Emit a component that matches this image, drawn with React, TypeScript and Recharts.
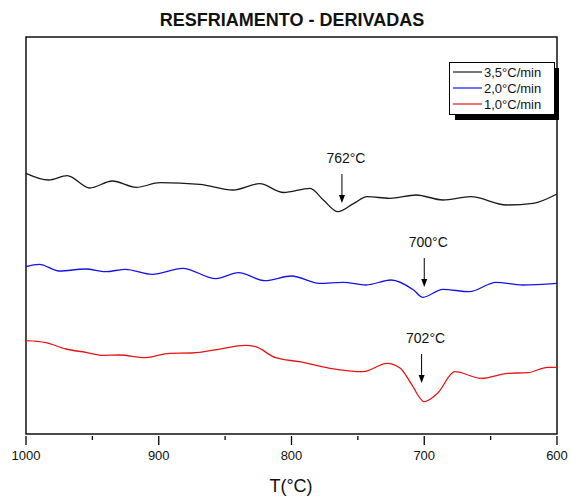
import { Line, LineChart, ReferenceArea, ReferenceDot, XAxis, YAxis } from "recharts";

// Cooling-rate derivative curves (arbitrary units, offset for stacking)
const rateLabels = ["3,5°C/min", "2,0°C/min", "1,0°C/min"];
const rateColors = ["#1a1a1a", "#1414e6", "#e61414"];

const fastT = [1000, 983, 969, 952, 935, 917, 899, 869, 844, 824, 806, 786, 776, 765, 753, 743, 726, 706, 686, 665, 638, 618, 600];
const fastV = [260.7, 254, 258.3, 246, 253, 246.7, 251.3, 249.7, 244, 250.3, 241.5, 245.7, 234, 222.3, 230.7, 237.3, 235.7, 239, 234, 237.3, 229, 230.7, 240];

const midT = [1000, 990, 975, 955, 940, 925, 905, 882, 857, 840, 820, 800, 779, 761, 744, 725, 708, 701, 686, 666, 646, 626, 600];
const midV = [167.3, 169.7, 163, 165, 162.3, 164.7, 159.7, 165.7, 155.3, 161.3, 153.3, 158, 150.7, 151.7, 149, 154, 144, 136.7, 144.7, 142.3, 151.7, 149, 150.7];

const slowT = [1000, 985, 970, 955, 942, 930, 910, 892, 875, 855, 835, 827, 812, 794, 771, 746, 728, 718, 710, 700, 690, 677, 657, 637, 622, 607, 600];
const slowV = [93.3, 91.3, 85, 81.7, 78.7, 79, 76.3, 80.7, 81, 84.7, 88.7, 87.3, 76.3, 72.3, 65.7, 62.3, 70.7, 65.7, 50.7, 32.3, 40.7, 62.3, 55.7, 60.7, 61.3, 66.7, 66.7];

const peakT = [762, 700, 702];
const peakV = [231, 147, 51];
const peakLabels = ["762°C", "700°C", "702°C"];

const xTicks = [1000, 950, 900, 850, 800, 750, 700, 650, 600];
const majorTicks = [1000, 900, 800, 700, 600];

const series = [fastT, midT, slowT].map((ts, i) =>
  ts.map((t, j) => ({ t, v: [fastV, midV, slowV][i][j] }))
);

const FONT = "'Liberation Sans', Arial, sans-serif";

function Tick(props: any) {
  const { x, y, payload } = props;
  const major = majorTicks.includes(payload.value);
  return (
    <g>
      <line x1={x} x2={x} y1={y} y2={y + (major ? 9 : 4)} stroke="#000" strokeWidth={1.3} />
      {major && (
        <text x={x} y={y + 24} textAnchor="middle" fontSize={13} fill="#111" fontFamily={FONT}>
          {payload.value}
        </text>
      )}
    </g>
  );
}

function PeakMark(label: string) {
  return (props: any) => {
    const { cx, cy } = props;
    return (
      <g>
        <line x1={cx} x2={cx} y1={cy - 29} y2={cy - 6} stroke="#000" strokeWidth={1} />
        <polygon points={`${cx - 3},${cy - 8} ${cx + 3},${cy - 8} ${cx},${cy}`} fill="#000" />
        <text x={cx + 4} y={cy - 40} textAnchor="middle" fontSize={14} fill="#111" fontFamily={FONT}>
          {label}
        </text>
      </g>
    );
  };
}

function LegendBox() {
  return (
    <svg width={112} height={60} style={{ position: "absolute", left: 449, top: 62 }}>
      <rect x={6} y={6} width={104} height={52} fill="#000" />
      <rect x={0.5} y={0.5} width={105} height={52} fill="#fff" stroke="#000" strokeWidth={1} />
      {rateLabels.map((l, i) => (
        <g key={l}>
          <line x1={4} x2={33} y1={10 + i * 16} y2={10 + i * 16} stroke={rateColors[i]} strokeWidth={1.2} />
          <text x={35} y={14.5 + i * 16} fontSize={13} fill="#111" fontFamily={FONT}>
            {l}
          </text>
        </g>
      ))}
    </svg>
  );
}

export default function App() {
  return (
    <div style={{ position: "absolute", left: 0, top: 0, width: 571, height: 496, background: "#fff" }}>
      <LineChart width={571} height={496} margin={{ top: 37, right: 14, bottom: 32, left: 26 }}>
        <text x={292} y={26} textAnchor="middle" fontSize={18} fontWeight="bold" fill="#111" fontFamily={FONT}>
          RESFRIAMENTO - DERIVADAS
        </text>
        <text x={291} y={492} textAnchor="middle" fontSize={18} fill="#111" fontFamily={FONT}>
          T(°C)
        </text>
        <XAxis
          dataKey="t"
          type="number"
          domain={[600, 1000]}
          reversed
          ticks={xTicks}
          interval={0}
          height={30}
          tickSize={0}
          tickLine={false}
          axisLine={false}
          tick={<Tick />}
          allowDuplicatedCategory={false}
        />
        <YAxis hide type="number" domain={[0, 397]} />
        <ReferenceArea x1={1000} x2={600} y1={0} y2={397} fill="none" stroke="#111" strokeWidth={1.5} />
        {series.map((d, i) => (
          <Line
            key={rateLabels[i]}
            data={d}
            dataKey="v"
            type="monotone"
            stroke={rateColors[i]}
            strokeWidth={1.3}
            dot={false}
            isAnimationActive={false}
          />
        ))}
        {peakT.map((t, i) => (
          <ReferenceDot key={peakLabels[i]} x={t} y={peakV[i]} r={0} shape={PeakMark(peakLabels[i])} />
        ))}
      </LineChart>
      <LegendBox />
    </div>
  );
}
